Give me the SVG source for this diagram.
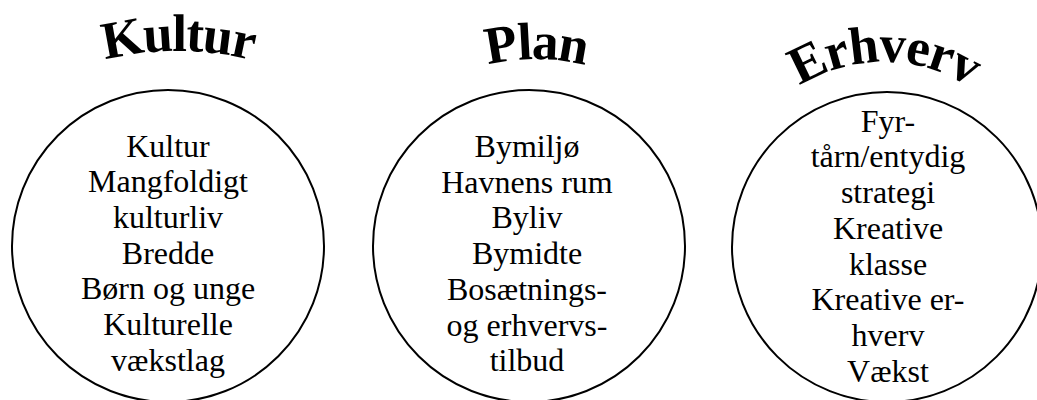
<svg xmlns="http://www.w3.org/2000/svg" width="1037" height="400" viewBox="0 0 1037 400">
  <style>
    .ring { fill: #ffffff; stroke: #000000; stroke-width: 2; }
    .body { font-family: "Liberation Serif", "Times New Roman", serif; font-size: 32px; fill: #000000; text-anchor: middle; }
    .title { font-family: "Liberation Serif", "Times New Roman", serif; font-size: 53px; font-weight: bold; fill: #000000; text-anchor: middle; letter-spacing: -1.5px; }
  </style>
  <defs>
    <path id="arcKultur" d="M 28 91.2 A 300 300 0 0 1 328 91.2" fill="none"/>
    <path id="arcPlan" d="M 336 259 A 200 200 0 0 1 736 259" fill="none"/>
    <path id="arcErhverv" d="M 724 222 A 160 160 0 0 1 1044 222" fill="none"/>
  </defs>
  <rect x="0" y="0" width="1037" height="400" fill="#ffffff"/>

  <g id="kultur">
    <text class="title"><textPath href="#arcKultur" startOffset="50%">Kultur</textPath></text>
    <circle class="ring" cx="168" cy="246" r="156"/>
    <text class="body" x="168" y="156.5">Kultur</text>
    <text class="body" x="168" y="192.2">Mangfoldigt</text>
    <text class="body" x="168" y="227.9">kulturliv</text>
    <text class="body" x="168" y="263.6">Bredde</text>
    <text class="body" x="168" y="299.3">Børn og unge</text>
    <text class="body" x="168" y="335">Kulturelle</text>
    <text class="body" x="168" y="370.7">vækstlag</text>
  </g>

  <g id="plan">
    <text class="title"><textPath href="#arcPlan" startOffset="50%">Plan</textPath></text>
    <circle class="ring" cx="529" cy="246" r="156"/>
    <text class="body" x="527" y="157">Bymiljø</text>
    <text class="body" x="527" y="192.7">Havnens rum</text>
    <text class="body" x="527" y="228.4">Byliv</text>
    <text class="body" x="527" y="264.1">Bymidte</text>
    <text class="body" x="527" y="299.8">Bosætnings-</text>
    <text class="body" x="527" y="335.5">og erhvervs-</text>
    <text class="body" x="527" y="371.2">tilbud</text>
  </g>

  <g id="erhverv">
    <text class="title"><textPath href="#arcErhverv" startOffset="50%">Erhverv</textPath></text>
    <circle class="ring" cx="887" cy="247" r="155"/>
    <text class="body" x="888" y="131.7">Fyr-</text>
    <text class="body" x="888" y="167.4">tårn/entydig</text>
    <text class="body" x="888" y="203.1">strategi</text>
    <text class="body" x="888" y="238.8">Kreative</text>
    <text class="body" x="888" y="274.5">klasse</text>
    <text class="body" x="888" y="310.2">Kreative er-</text>
    <text class="body" x="888" y="345.9">hverv</text>
    <text class="body" x="888" y="381.6">Vækst</text>
  </g>
</svg>
